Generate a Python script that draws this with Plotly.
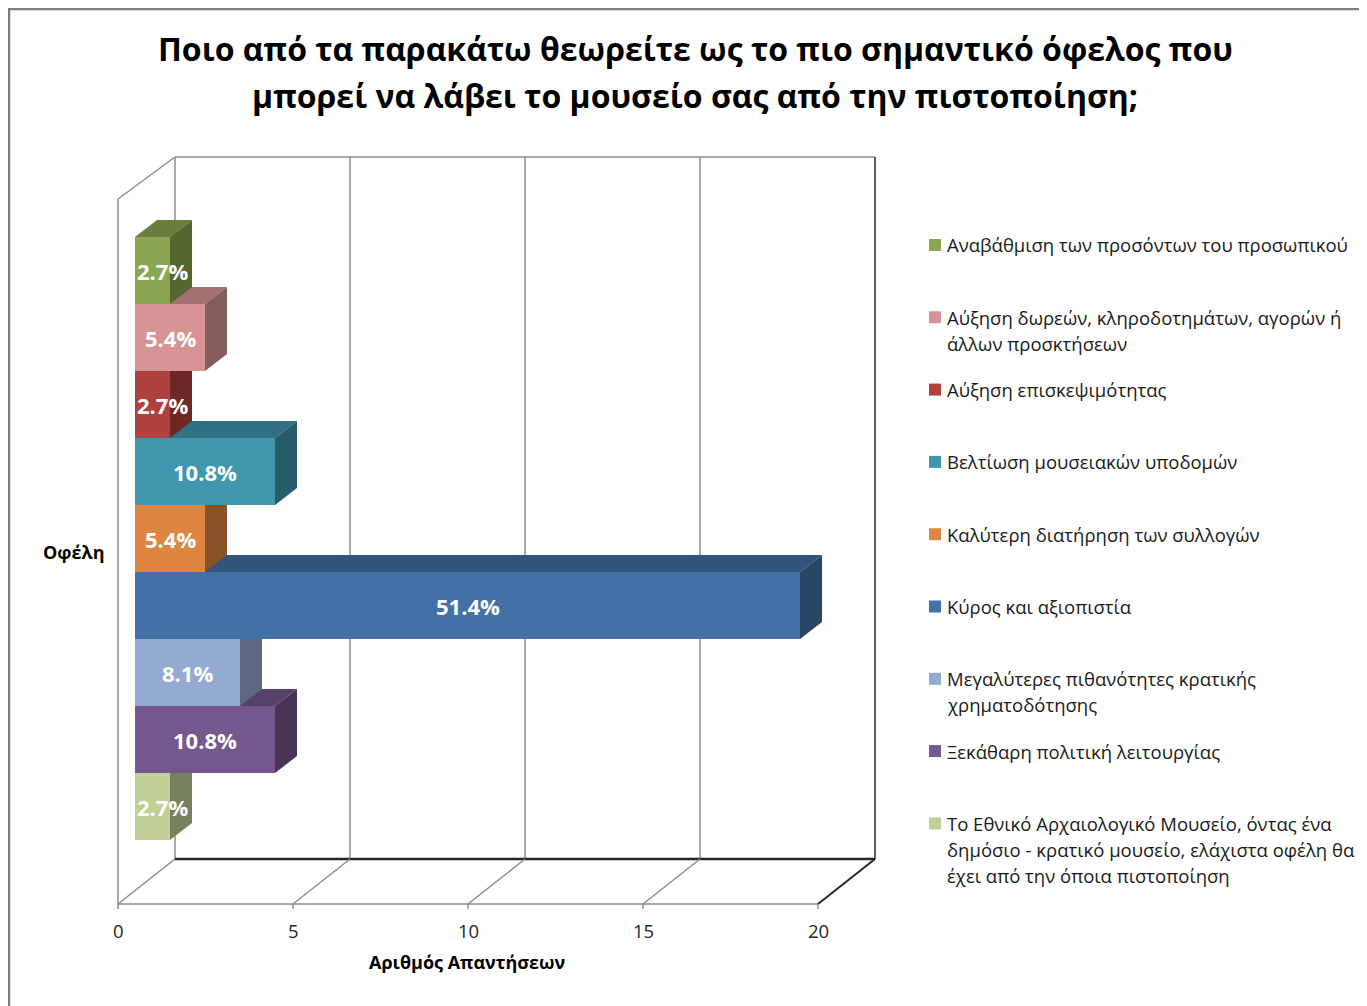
import plotly.graph_objects as go

# ---------------- data ----------------
categories = [
    "Αναβάθμιση των προσόντων του προσωπικού",
    "Αύξηση δωρεών, κληροδοτημάτων, αγορών ή άλλων προσκτήσεων",
    "Αύξηση επισκεψιμότητας",
    "Βελτίωση μουσειακών υποδομών",
    "Καλύτερη διατήρηση των συλλογών",
    "Κύρος και αξιοπιστία",
    "Μεγαλύτερες πιθανότητες κρατικής χρηματοδότησης",
    "Ξεκάθαρη πολιτική λειτουργίας",
    "Το Εθνικό Αρχαιολογικό Μουσείο, όντας ένα δημόσιο - κρατικό μουσείο, ελάχιστα οφέλη θα έχει από την όποια πιστοποίηση",
]
legend_lines = [
    ["Αναβάθμιση των προσόντων του προσωπικού"],
    ["Αύξηση δωρεών, κληροδοτημάτων, αγορών ή", "άλλων προσκτήσεων"],
    ["Αύξηση επισκεψιμότητας"],
    ["Βελτίωση μουσειακών υποδομών"],
    ["Καλύτερη διατήρηση των συλλογών"],
    ["Κύρος και αξιοπιστία"],
    ["Μεγαλύτερες πιθανότητες κρατικής", "χρηματοδότησης"],
    ["Ξεκάθαρη πολιτική λειτουργίας"],
    ["Το Εθνικό Αρχαιολογικό Μουσείο, όντας ένα", "δημόσιο - κρατικό μουσείο, ελάχιστα οφέλη θα", "έχει από την όποια πιστοποίηση"],
]
counts = [1, 2, 1, 4, 2, 19, 3, 4, 1]
percent_labels = ["2.7%", "5.4%", "2.7%", "10.8%", "5.4%", "51.4%", "8.1%", "10.8%", "2.7%"]
colors = ["#8BA650", "#D69594", "#B0413E", "#4097AE", "#DE8640",
          "#4471A5", "#95AAD1", "#73578D", "#BFCF96"]
x_ticks = [0, 5, 10, 15, 20]
group_label = "Οφέλη"
x_title = "Αριθμός Απαντήσεων"
title_lines = ["Ποιο από τα παρακάτω θεωρείτε ως το πιο σημαντικό όφελος που",
               "μπορεί να λάβει το μουσείο σας από την πιστοποίηση;"]

# ---------------- layout geometry ----------------
PAGE_OFF = 8                     # page body margin around the figure
W, H = 1367 - PAGE_OFF, 1006 - PAGE_OFF
FONT = "Open Sans"


def fx(p):
    return (p - PAGE_OFF) / W


def fy(p):
    return 1 - (p - PAGE_OFF) / H


BAR_X0 = 135          # page pixel of value 0 on bar front faces
PPU = 35              # pixels per unit
BAR_TOP, BAR_BOT = 237, 840
Y_PPU = BAR_BOT - BAR_TOP
DX = 22 / PPU          # bar depth (x, data units)
DYD = 17 / Y_PPU       # bar depth (y, data units, reversed axis)
FRONT_OFF = (118 - BAR_X0) / PPU
BACK_OFF = (175 - BAR_X0) / PPU
FLOOR_FRONT_Y, FLOOR_BACK_Y = 904, 859
WALL_TOP_FRONT_Y, WALL_TOP_BACK_Y = 199, 157
X_LO, X_HI = -1, 22
Y_PAD = 0.1

GREY = "#8C8C8C"
DARK = "#262626"


def shade(hexc, f):
    r, g, b = int(hexc[1:3], 16), int(hexc[3:5], 16), int(hexc[5:7], 16)
    return "#%02x%02x%02x" % (int(r * f), int(g * f), int(b * f))


fig = go.Figure()
n = len(categories)
for i in range(n):
    fig.add_trace(go.Bar(
        y=[0], x=[counts[i]], orientation="h", name=categories[i],
        marker=dict(color=colors[i], line=dict(width=0)),
        showlegend=False, hovertemplate="%{x}<extra>" + categories[i][:30] + "</extra>",
    ))

shapes = []


def line_x(x0, y0p, x1, y1p, color=GREY, width=1.5):
    shapes.append(dict(type="line", xref="x", yref="paper", x0=x0, x1=x1,
                       y0=fy(y0p), y1=fy(y1p), line=dict(color=color, width=width),
                       layer="below"))


xmax = x_ticks[-1]
# back wall
line_x(BACK_OFF, WALL_TOP_BACK_Y, BACK_OFF, FLOOR_BACK_Y)
line_x(BACK_OFF, WALL_TOP_BACK_Y, xmax + BACK_OFF, WALL_TOP_BACK_Y)
for t in x_ticks[1:-1]:
    line_x(t + BACK_OFF, WALL_TOP_BACK_Y, t + BACK_OFF, FLOOR_BACK_Y)
line_x(xmax + BACK_OFF, WALL_TOP_BACK_Y, xmax + BACK_OFF, FLOOR_BACK_Y, "#4d4d4d", 1.8)
# left wall
line_x(FRONT_OFF, WALL_TOP_FRONT_Y, FRONT_OFF, FLOOR_FRONT_Y)
line_x(FRONT_OFF, WALL_TOP_FRONT_Y, BACK_OFF, WALL_TOP_BACK_Y)
# floor
line_x(FRONT_OFF, FLOOR_FRONT_Y, xmax + FRONT_OFF, FLOOR_FRONT_Y)
line_x(BACK_OFF, FLOOR_BACK_Y, xmax + BACK_OFF, FLOOR_BACK_Y, DARK, 2.5)
for t in x_ticks:
    c, w = (DARK, 2) if t == xmax else (GREY, 1.5)
    line_x(t + FRONT_OFF, FLOOR_FRONT_Y, t + BACK_OFF, FLOOR_BACK_Y, c, w)
    line_x(t + FRONT_OFF, FLOOR_FRONT_Y, t + FRONT_OFF, FLOOR_FRONT_Y + 5)

# 3D faces: bottom bar first so upper bars' faces cover lower ones
for i in reversed(range(n)):
    v = counts[i]
    yt = -0.5 + i / n
    yb = yt + 1 / n
    top = f"M 0 {yt} L {v} {yt} L {v + DX} {yt - DYD} L {DX} {yt - DYD} Z"
    side = f"M {v} {yt} L {v + DX} {yt - DYD} L {v + DX} {yb - DYD} L {v} {yb} Z"
    shapes.append(dict(type="path", xref="x", yref="y", path=top,
                       fillcolor=shade(colors[i], 0.76), line=dict(width=0), layer="below"))
    shapes.append(dict(type="path", xref="x", yref="y", path=side,
                       fillcolor=shade(colors[i], 0.62), line=dict(width=0), layer="below"))

# outer border
shapes.append(dict(type="rect", xref="paper", yref="paper", x0=fx(9), x1=fx(1380),
                   y0=fy(1020), y1=fy(9), line=dict(color="#7F7F7F", width=2.5)))

annotations = []
# bar value labels
LABEL_SIZE = 22
for i in range(n):
    v = counts[i]
    yc = -0.5 + (i + 0.5) / n
    if v * PPU < 60:
        annotations.append(dict(x=0, y=yc, xref="x", yref="y", text=f"<b>{percent_labels[i]}</b>",
                                showarrow=False, xanchor="left", xshift=0, yanchor="middle",
                                font=dict(family=FONT, size=LABEL_SIZE, color="white")))
    else:
        annotations.append(dict(x=v / 2, y=yc, xref="x", yref="y", text=f"<b>{percent_labels[i]}</b>",
                                showarrow=False, xanchor="center", yanchor="middle",
                                font=dict(family=FONT, size=LABEL_SIZE, color="white")))

# x tick labels
for t in x_ticks:
    annotations.append(dict(x=t + FRONT_OFF, y=fy(930), xref="x", yref="paper", text=str(t),
                            showarrow=False, xanchor="center", yanchor="middle",
                            font=dict(family=FONT, size=18.5, color="#262626")))

annotations.append(dict(x=fx(467), y=fy(962), xref="paper", yref="paper", text=f"<b>{x_title}</b>",
                        showarrow=False, xanchor="center", yanchor="middle",
                        font=dict(family=FONT, size=18, color="black")))
annotations.append(dict(x=fx(73), y=fy(552), xref="paper", yref="paper", text=f"<b>{group_label}</b>",
                        showarrow=False, xanchor="center", yanchor="middle",
                        font=dict(family=FONT, size=18, color="black")))

for j, tl in enumerate(title_lines):
    annotations.append(dict(x=fx(695), y=fy(48 + 47 * j), xref="paper", yref="paper",
                            text=f"<b>{tl}</b>", showarrow=False, xanchor="center", yanchor="middle",
                            font=dict(family=FONT, size=32, color="black")))

# legend (manual)
LEG_Y0, LEG_STEP, LINE_STEP = 245, 72.3, 26
for i in range(n):
    yc = LEG_Y0 + i * LEG_STEP
    shapes.append(dict(type="rect", xref="paper", yref="paper", x0=fx(929), x1=fx(941),
                       y0=fy(yc + 6), y1=fy(yc - 6), fillcolor=colors[i], line=dict(width=0)))
    for k, txt in enumerate(legend_lines[i]):
        annotations.append(dict(x=fx(945), y=fy(yc + k * LINE_STEP), xref="paper", yref="paper",
                                text=txt, showarrow=False, xanchor="left", yanchor="middle",
                                font=dict(family=FONT, size=18.5, color="#1a1a1a")))

fig.update_layout(
    width=W, height=H,
    margin=dict(l=0, r=0, t=0, b=0),
    paper_bgcolor="white", plot_bgcolor="rgba(0,0,0,0)",
    barmode="group", bargap=0, bargroupgap=0,
    xaxis=dict(domain=[fx(BAR_X0 + X_LO * PPU), fx(BAR_X0 + X_HI * PPU)], range=[X_LO, X_HI],
               visible=False, fixedrange=True),
    yaxis=dict(domain=[fy(BAR_BOT + Y_PAD * Y_PPU), fy(BAR_TOP - Y_PAD * Y_PPU)],
               range=[0.5 + Y_PAD, -0.5 - Y_PAD], type="linear",
               visible=False, fixedrange=True),
    shapes=shapes, annotations=annotations, showlegend=False,
)

fig.write_html("out.html")
